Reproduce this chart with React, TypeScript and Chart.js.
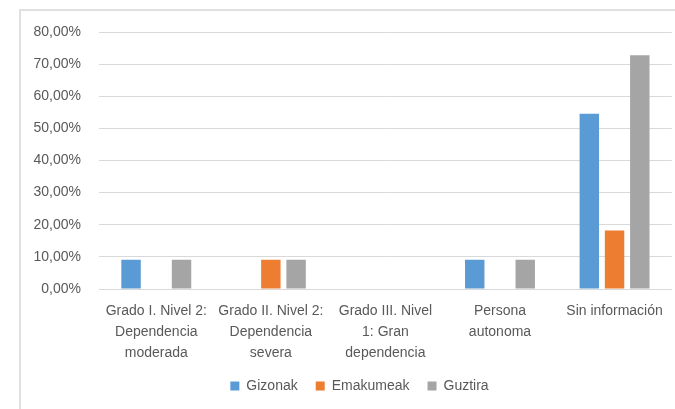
import React, { useEffect, useRef } from "react";
import { Chart, registerables } from "chart.js";

Chart.register(...registerables);

const categories: (string | string[])[] = [
  ["Grado I. Nivel 2:", "Dependencia", "moderada"],
  ["Grado II. Nivel 2:", "Dependencia", "severa"],
  ["Grado III. Nivel", "1: Gran", "dependencia"],
  ["Persona", "autonoma"],
  "Sin información",
];

const gizonak = [9.09, 0, 0, 9.09, 54.55];
const emakumeak = [0, 9.09, 0, 0, 18.18];
const guztira = [9.09, 9.09, 0, 9.09, 72.73];

const seriesNames = ["Gizonak", "Emakumeak", "Guztira"];
const seriesColors = ["#5B9BD5", "#ED7D31", "#A5A5A5"];

const yMin = 0;
const yMax = 80;
const yStep = 10;

const FONT = "'Liberation Sans', Arial, sans-serif";
const TEXT = "#595959";
const GRID = "#d9d9d9";

const shiftLegend = {
  id: "shiftLegend",
  afterLayout(chart: any) {
    const lg = chart.legend;
    if (lg) {
      lg.left += 23;
      lg.right += 23;
    }
  },
};

export default function App() {
  const ref = useRef<HTMLCanvasElement | null>(null);

  useEffect(() => {
    if (!ref.current) return;
    const chart = new Chart(ref.current, {
      type: "bar",
      data: {
        labels: categories,
        datasets: [gizonak, emakumeak, guztira].map((d, i) => ({
          label: seriesNames[i],
          data: d,
          backgroundColor: seriesColors[i],
          borderWidth: 0,
          categoryPercentage: 0.661,
          barPercentage: 0.77,
        })),
      },
      plugins: [shiftLegend],
      options: {
        responsive: false,
        animation: false,
        layout: { padding: { top: 32, right: 2, bottom: 6, left: 0 } },
        plugins: {
          legend: {
            position: "bottom",
            labels: {
              boxWidth: 9,
              boxHeight: 9,
              padding: 18,
              color: TEXT,
              font: { family: FONT, size: 14 },
            },
          },
          tooltip: { enabled: false },
        },
        scales: {
          x: {
            grid: { display: false, drawTicks: false },
            border: { display: true, color: GRID, width: 1 },
            ticks: {
              color: TEXT,
              font: { family: FONT, size: 14, lineHeight: 1.5 },
              padding: 12,
              maxRotation: 0,
              autoSkip: false,
            },
            afterFit: (s: any) => {
              s.height = 72;
            },
          },
          y: {
            min: yMin,
            max: yMax,
            grid: { color: GRID, lineWidth: 1, drawTicks: false },
            border: { display: false },
            ticks: {
              stepSize: yStep,
              color: TEXT,
              font: { family: FONT, size: 14 },
              padding: 18,
              callback: (v: any) => Number(v).toFixed(2).replace(".", ",") + "%",
            },
            afterFit: (s: any) => {
              s.width = 99;
            },
          },
        },
      },
    });
    return () => chart.destroy();
  }, []);

  return (
    <div style={{ position: "fixed", left: 0, top: 0, width: 675, height: 409, background: "#fff" }}>
      <div
        style={{
          position: "absolute",
          left: 19,
          top: 9,
          right: 0,
          bottom: 0,
          borderLeft: "2px solid #e0e0e0",
          borderTop: "2px solid #e0e0e0",
        }}
      />
      <canvas ref={ref} width={675} height={409} style={{ position: "absolute", left: 0, top: 0 }} />
    </div>
  );
}
